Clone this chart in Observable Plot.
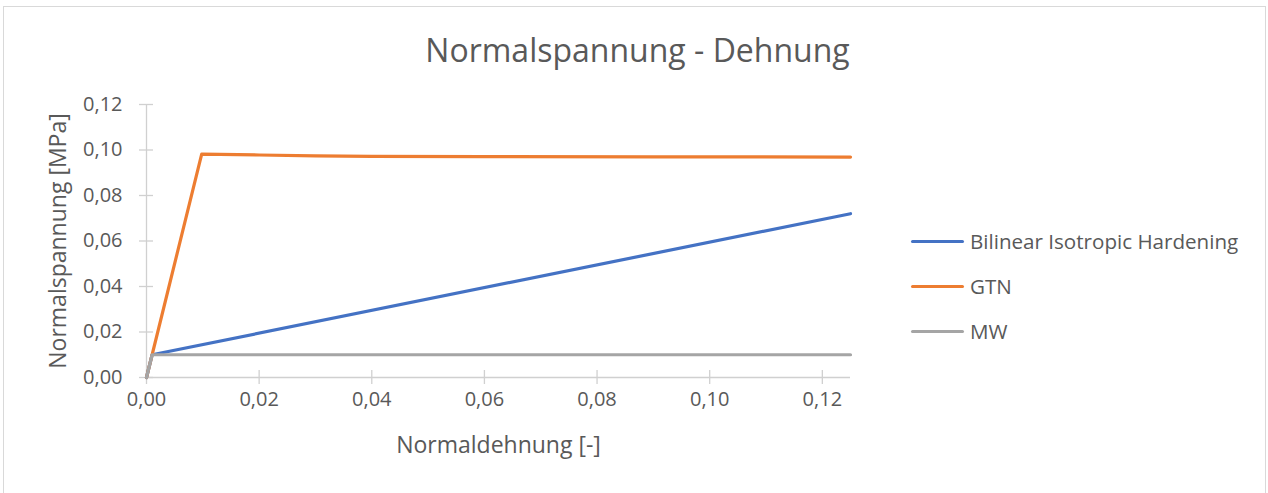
<!DOCTYPE html>
<html>
<head>
<meta charset="utf-8">
<script src="https://cdn.jsdelivr.net/npm/d3@7"></script>
<script src="https://cdn.jsdelivr.net/npm/@observablehq/plot@0.6"></script>
<style>
  html, body { margin: 0; padding: 0; background: #fff; }
  #chart { position: relative; width: 1268px; height: 493px; overflow: hidden;
           font-family: "Open Sans", sans-serif; color: #595959; }
  #frame { position: absolute; left: 3px; top: 6px; width: 1263px; height: 520px;
           border: 1px solid #d9d9d9; box-sizing: border-box; pointer-events: none; }
  #title { position: relative; height: 90px; }
  #title span { position: absolute; left: 3px; width: 1269px; top: 34px; text-align: center;
                font-size: 32px; line-height: 32px; white-space: nowrap; }
  #legend { position: absolute; left: 911px; top: 0; }
  .item { position: absolute; left: 0; display: flex; align-items: center; height: 30px;
          white-space: nowrap; font-size: 20.6px; }
  .swatch { width: 53px; height: 3px; border-radius: 2px; margin-right: 6px; }
</style>
</head>
<body>
<div id="chart">
  <div id="title"><span>Normalspannung - Dehnung</span></div>
  <div id="plot"></div>
  <div id="legend"></div>
  <div id="frame"></div>
</div>
<script>
// Series names and colours
const seriesNames = ["Bilinear Isotropic Hardening", "GTN", "MW"];
const seriesColors = ["#4472C4", "#ED7D31", "#A5A5A5"];

// Strain [-] / stress [MPa] points of each material model
const bilinearStrain = [0, 0.001, 0.125];
const bilinearStress = [0, 0.010, 0.072];

const gtnStrain = [0, 0.0098, 0.02, 0.03, 0.04, 0.06, 0.09, 0.125];
const gtnStress = [0, 0.0982, 0.0978, 0.0974, 0.0972, 0.0971, 0.0970, 0.0969];

const mwStrain = [0, 0.001, 0.125];
const mwStress = [0, 0.010, 0.010];

// Axis ticks
const xTicks = [0, 0.02, 0.04, 0.06, 0.08, 0.10, 0.12];
const yTicks = [0, 0.02, 0.04, 0.06, 0.08, 0.10, 0.12];

const rows = [];
[[bilinearStrain, bilinearStress], [gtnStrain, gtnStress], [mwStrain, mwStress]].forEach(([xs, ys], i) => {
  xs.forEach((x, j) => rows.push({series: seriesNames[i], strain: x, stress: ys[j]}));
});

const fmt = d => d.toFixed(2).replace(".", ",");
const axisColor = "#d0d0d0";
const textColor = "#595959";

const chart = Plot.plot({
  width: 1268,
  height: 403,
  marginLeft: 146,
  marginRight: 418,
  marginTop: 14,
  marginBottom: 116,
  style: {fontFamily: "Open Sans, sans-serif", fontSize: "20px", color: textColor, background: "transparent", overflow: "visible"},
  x: {domain: [0, 0.125]},
  y: {domain: [0, 0.12]},
  color: {domain: seriesNames, range: seriesColors},
  marks: [
    Plot.ruleY([0], {stroke: axisColor, strokeWidth: 1.3}),
    Plot.ruleX([0], {stroke: axisColor, strokeWidth: 1.3}),
    // cross tick marks
    Plot.axisX(xTicks, {tickSize: 14, dy: -7, text: null, label: null, stroke: axisColor, strokeWidth: 1.3}),
    Plot.axisY(yTicks, {tickSize: 14, dx: 7, text: null, label: null, stroke: axisColor, strokeWidth: 1.3}),
    // tick labels
    Plot.axisX(xTicks, {tickSize: 0, tickPadding: 14, tickFormat: fmt, label: null, fill: textColor}),
    Plot.axisY(yTicks, {tickSize: 0, tickPadding: 24, tickFormat: fmt, label: null, fill: textColor}),
    // axis titles
    Plot.text(["Normaldehnung [-]"], {frameAnchor: "bottom", dy: 68, textAnchor: "middle", lineAnchor: "middle", fontSize: 23, fill: textColor}),
    Plot.text(["Normalspannung [MPa]"], {frameAnchor: "left", dx: -88, rotate: -90, textAnchor: "middle", lineAnchor: "middle", fontSize: 23, fill: textColor}),
    // curves
    Plot.line(rows, {x: "strain", y: "stress", z: "series", stroke: "series",
                     strokeWidth: 3.2, strokeLinecap: "round", strokeLinejoin: "round"})
  ]
});
document.getElementById("plot").appendChild(chart);

// Legend
const legend = document.getElementById("legend");
const legendCenters = [241, 286, 331];
seriesNames.forEach((name, i) => {
  const item = document.createElement("div");
  item.className = "item";
  item.style.top = (legendCenters[i] - 15) + "px";
  const sw = document.createElement("div");
  sw.className = "swatch";
  sw.style.background = seriesColors[i];
  const label = document.createElement("span");
  label.textContent = name;
  item.appendChild(sw);
  item.appendChild(label);
  legend.appendChild(item);
});
</script>
</body>
</html>
